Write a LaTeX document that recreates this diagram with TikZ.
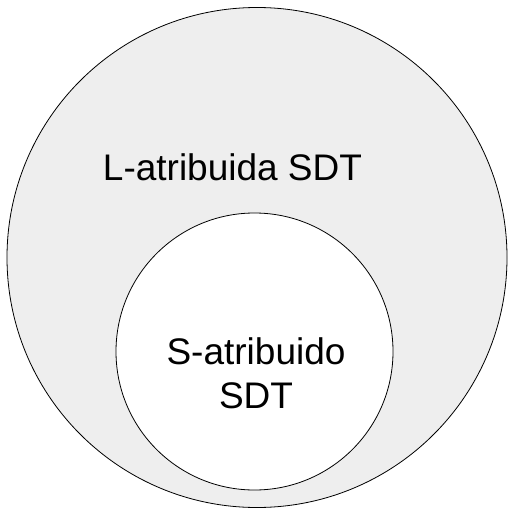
\documentclass[tikz,border=0pt]{standalone}
\usepackage{fontspec}
\setmainfont{Liberation Sans}
\definecolor{outerfill}{HTML}{EEEEEE}
\begin{document}
\begin{tikzpicture}[x=1pt,y=-1pt,
  ring/.style={draw=black,line width=0.8pt},
  lbl/.style={font=\fontsize{37}{44}\selectfont,align=center,inner sep=0pt}]
\useasboundingbox[fill=white] (0,0) rectangle (516,516);
\node[ring,circle,fill=outerfill,minimum size=500pt,inner sep=0pt] (outer) at (257,257.5) {};
\node[ring,circle,fill=white,minimum size=277pt,inner sep=0pt] (inner) at (254.5,351.5) {};
\node[lbl] (ltext) at (232.5,167) {L-atribuida SDT};
\node[lbl] (stext) at (256,373.5) {S-atribuido\\SDT};
\end{tikzpicture}
\end{document}
